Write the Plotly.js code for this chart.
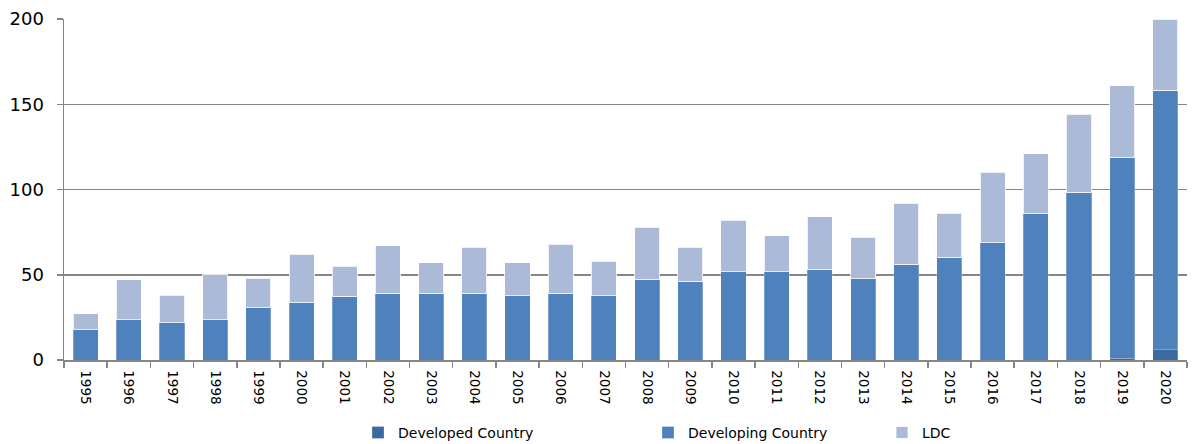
<!DOCTYPE html>
<html>
<head>
<meta charset="utf-8">
<script src="https://cdn.plot.ly/plotly-3.0.1.min.js"></script>
<style>html,body{margin:0;padding:0;background:#fff;}#chart{width:1195px;height:444px;}</style>
</head>
<body>
<div id="chart"></div>
<script>
const years = ["1995","1996","1997","1998","1999","2000","2001","2002","2003","2004","2005","2006","2007","2008","2009","2010","2011","2012","2013","2014","2015","2016","2017","2018","2019","2020"];
const developed = [0,0,0,0,0,0,0,0,0,0,0,0,0,0,0,0,0,0,0,0,0,0,0,0,1,6];
const developing = [18,24,22,24,31,34,37,39,39,39,38,39,38,47,46,52,52,53,48,56,60,69,86,98,118,152];
const ldc = [9,23,16,26,17,28,18,28,18,27,19,29,20,31,20,30,21,31,24,36,26,41,35,46,42,42];

const traces = [
  {type:'bar', x: years, name:'Developed Country', y: developed, marker:{color:'#3D6A9E', line:{color:'rgba(255,255,255,0.5)', width:0.5}}, legend:'legend'},
  {type:'bar', x: years, name:'Developing Country', y: developing, marker:{color:'#4F81BD', line:{color:'rgba(255,255,255,0.5)', width:0.5}}, legend:'legend2'},
  {type:'bar', x: years, name:'LDC', y: ldc, marker:{color:'#AABAD7', line:{color:'rgba(255,255,255,0.8)', width:1}}, legend:'legend3'}
];
const legendBase = {orientation:'h', yref:'container', y:0.025, yanchor:'middle', xref:'container', xanchor:'left', font:{family:'DejaVu Sans, Verdana, sans-serif', size:14, color:'#000'}, bgcolor:'rgba(0,0,0,0)'};
const layout = {
  width:1195, height:444,
  margin:{l:64, r:8, t:19, b:84},
  barmode:'stack', bargap:0.42,
  paper_bgcolor:'#fff', plot_bgcolor:'#fff',
  font:{family:'DejaVu Sans, Verdana, sans-serif', color:'#000'},
  xaxis:{type:'category', tickangle:90, tickfont:{size:13.5}, showline:true, linecolor:'#868686', linewidth:1.5,
         ticks:'outside', tickson:'boundaries', ticklen:6, tickcolor:'#868686', tickwidth:1.5, showgrid:false, ticklabelstandoff:6},
  yaxis:{range:[0,200], tickvals:[0,50,100,150,200], tickfont:{size:18}, showline:true, linecolor:'#868686', linewidth:1.5,
         ticks:'outside', ticklen:6, tickcolor:'#868686', tickwidth:1.5, showgrid:true, gridcolor:'#868686', gridwidth:1.5, zeroline:false, ticklabelstandoff:9},
  showlegend:true,
  legend: Object.assign({}, legendBase, {x:358/1195}),
  legend2: Object.assign({}, legendBase, {x:648/1195}),
  legend3: Object.assign({}, legendBase, {x:882/1195})
};
Plotly.newPlot('chart', traces, layout, {displayModeBar:false, staticPlot:true});
</script>
</body>
</html>
